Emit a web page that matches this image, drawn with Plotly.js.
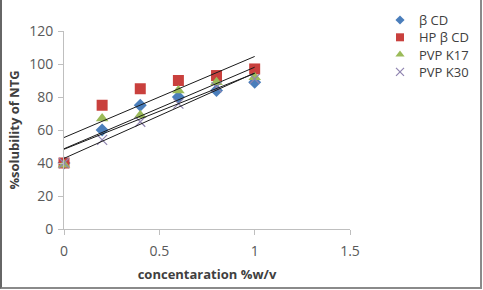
<!DOCTYPE html>
<html>
<head>
<meta charset="utf-8">
<script src="https://cdn.plot.ly/plotly-3.0.1.min.js"></script>
<style>
  html, body { margin: 0; padding: 0; background: #fff; }
  #wrap { position: relative; width: 483px; height: 290px; overflow: hidden; }
  #chart { position: absolute; left: 0; top: 0; width: 483px; height: 290px; }
  #frame { position: absolute; left: 0; top: -2px; width: 478px; height: 287px;
           border: 2px solid #8a8a8a; border-left-color: #666; pointer-events: none; }
</style>
</head>
<body>
<div id="wrap">
  <div id="chart"></div>
  <div id="frame"></div>
</div>
<script>
// Concentration (%w/v) of each carrier
const concentration = [0, 0.2, 0.4, 0.6, 0.8, 1];

// % solubility of NTG for each carrier
const betaCD  = [40, 60, 75, 80, 84, 89];
const hpBetaCD = [40, 75, 85, 90, 93, 97];
const pvpK17  = [39, 67, 69, 84, 89, 92];
const pvpK30  = [40, 54, 65, 76, 86, 91];

const seriesNames = ['β CD', 'HP β CD', 'PVP K17', 'PVP K30'];
const xTicks = [0, 0.5, 1, 1.5];
const yTicks = [0, 20, 40, 60, 80, 100, 120];

const W = 483, H = 290;
// plot box in pixels
const box = { left: 64, right: 350, top: 31, bottom: 229 };
// key: symbol column, text column, first row centre and row spacing
const key = { symX: 400, textX: 417, firstRow: 20, rowStep: 17.3 };

const styles = [
  { symbol: 'diamond', color: '#4a7ebb', size: 10, keySize: 7 },
  { symbol: 'square', color: '#c9403d', size: 11, keySize: 8 },
  { symbol: 'triangle-up', color: '#9bbb59', size: 11, keySize: 8 },
  { symbol: 'x-thin-open', color: '#8f84b0', size: 10, keySize: 8 }
];

// least-squares linear trendline
function fit(xs, ys) {
  const n = xs.length;
  const mx = xs.reduce((a, b) => a + b, 0) / n;
  const my = ys.reduce((a, b) => a + b, 0) / n;
  let sxy = 0, sxx = 0;
  for (let i = 0; i < n; i++) {
    sxy += (xs[i] - mx) * (ys[i] - my);
    sxx += (xs[i] - mx) * (xs[i] - mx);
  }
  const slope = sxy / sxx;
  return { slope, intercept: my - slope * mx };
}

const allSeries = [betaCD, hpBetaCD, pvpK17, pvpK30];
const traces = [];

function markerOf(s, size) {
  return {
    symbol: s.symbol,
    color: s.color,
    size: size,
    line: { color: s.color, width: s.symbol === 'x-thin-open' ? 1.2 : 0 }
  };
}

// data points
allSeries.forEach((ys, i) => {
  const s = styles[i];
  traces.push({
    x: concentration,
    y: ys,
    name: seriesNames[i],
    mode: 'markers',
    cliponaxis: false,
    showlegend: false,
    marker: markerOf(s, s.size)
  });
});

// linear trendlines
allSeries.forEach((ys) => {
  const f = fit(concentration, ys);
  const x0 = concentration[0], x1 = concentration[concentration.length - 1];
  traces.push({
    x: [x0, x1],
    y: [f.intercept + f.slope * x0, f.intercept + f.slope * x1],
    mode: 'lines',
    line: { color: '#1a1a1a', width: 1 },
    showlegend: false,
    hoverinfo: 'skip',
    cliponaxis: false
  });
});

// key symbols, one row per series, on their own small axes
const nRows = seriesNames.length;
seriesNames.forEach((name, i) => {
  traces.push({
    x: [0.5],
    y: [i],
    xaxis: 'x2',
    yaxis: 'y2',
    mode: 'markers',
    showlegend: false,
    hoverinfo: 'skip',
    cliponaxis: false,
    marker: markerOf(styles[i], styles[i].keySize)
  });
});

const keyTop = key.firstRow - key.rowStep / 2;
const keyBottom = key.firstRow + key.rowStep * (nRows - 0.5);

const keyText = seriesNames.map((name, i) => ({
  text: name,
  xref: 'paper', yref: 'paper',
  x: key.textX / W,
  y: 1 - (key.firstRow + key.rowStep * i) / H,
  xanchor: 'left', yanchor: 'middle',
  showarrow: false,
  font: { family: 'Open Sans, sans-serif', size: 13, color: '#404040' }
}));

const tickFont = { family: 'Open Sans, sans-serif', size: 14, color: '#595959' };
const titleFont = { family: 'Open Sans, sans-serif', size: 13, color: '#404040' };

const layout = {
  width: W,
  height: H,
  margin: { l: 0, r: 0, t: 0, b: 0 },
  paper_bgcolor: '#ffffff',
  plot_bgcolor: '#ffffff',
  showlegend: false,
  annotations: keyText,
  xaxis: {
    domain: [box.left / W, box.right / W],
    range: [0, 1.5],
    tickvals: xTicks,
    ticktext: xTicks.map(String),
    showgrid: false,
    zeroline: false,
    showline: true,
    linecolor: '#bfbfbf',
    linewidth: 1,
    ticks: 'outside',
    ticklen: 5,
    tickcolor: '#bfbfbf',
    ticklabelstandoff: 4,
    tickfont: tickFont,
    automargin: false,
    title: { text: '<b>concentaration %w/v</b>', font: titleFont, standoff: 11 }
  },
  yaxis: {
    domain: [1 - box.bottom / H, 1 - box.top / H],
    range: [0, 120],
    tickvals: yTicks,
    ticktext: yTicks.map(String),
    showgrid: false,
    zeroline: false,
    showline: true,
    linecolor: '#bfbfbf',
    linewidth: 1,
    ticks: 'outside',
    ticklen: 5,
    tickcolor: '#bfbfbf',
    ticklabelstandoff: 2,
    tickfont: tickFont,
    automargin: false,
    title: { text: '<b>%solubility of NTG</b>', font: titleFont, standoff: 6 }
  },
  xaxis2: {
    domain: [(key.symX - 10) / W, (key.symX + 10) / W],
    range: [0, 1],
    anchor: 'y2',
    visible: false,
    fixedrange: true
  },
  yaxis2: {
    domain: [1 - keyBottom / H, 1 - keyTop / H],
    range: [nRows - 0.5, -0.5],
    anchor: 'x2',
    visible: false,
    fixedrange: true
  }
};

Plotly.newPlot('chart', traces, layout, { staticPlot: true, displayModeBar: false });
</script>
</body>
</html>
